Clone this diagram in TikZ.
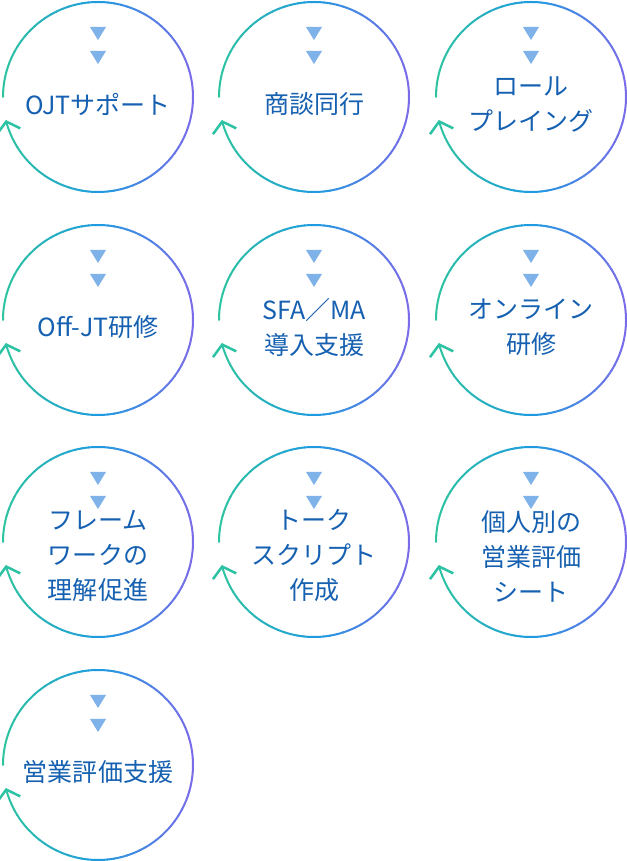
\documentclass[tikz,border=0pt]{standalone}
\usepackage{fontspec}
\setmainfont{Noto Sans CJK JP}
\usetikzlibrary{arrows.meta}
\definecolor{cteal}{HTML}{2EC4A0}
\definecolor{cblue}{HTML}{1E9BE0}
\definecolor{cpurple}{HTML}{7B6CE8}
\definecolor{ctext}{HTML}{1560B0}
\definecolor{ctri}{HTML}{80B2EA}
\tikzset{
  label/.style={circle,minimum size=190bp,inner sep=0pt,align=center,text=ctext,font=\fontsize{25bp}{35bp}\selectfont},
  tri/.style={fill=ctri,draw=none},
  ringseg/.style={line width=2bp,line cap=round},
}
\newcommand\ring[1]{%
  \foreach \a in {180,176,...,-152}{%
    \pgfmathsetmacro\cx{cos(\a-2)}%
    \pgfmathtruncatemacro\pa{max(0,min(100,(\cx+1)*100))}%
    \pgfmathtruncatemacro\pb{max(0,\cx*100)}%
    \colorlet{tmpc}{cblue!\pa!cteal}\colorlet{segc}{cpurple!\pb!tmpc}%
    \draw[ringseg,segc] ([shift={(\a:95bp)}]#1.center) arc[start angle=\a,end angle=\a-4.2,radius=95bp];
  }%
  \draw[ringseg,cteal!95!cblue,-{Straight Barb[length=10bp,width=24bp,line width=2.5bp]}] ([shift={(-156:95bp)}]#1.center) arc[start angle=-156,end angle=-166,radius=95bp];
  \fill[tri] ([shift={(-8bp,70bp)}]#1.center) -- ++(16bp,0) -- ++(-8bp,-13bp) -- cycle;
  \fill[tri] ([shift={(-8bp,46bp)}]#1.center) -- ++(16bp,0) -- ++(-8bp,-13bp) -- cycle;
}
\begin{document}
\begin{tikzpicture}[x=1bp,y=1bp]
\useasboundingbox (0,0) rectangle (627,861);
\node[label] (n1) at (98,764) {};
\node[label] (n2) at (314,764) {};
\node[label] (n3) at (531,764) {};
\node[label] (n4) at (98,541) {};
\node[label] (n5) at (314,541) {};
\node[label] (n6) at (531,541) {};
\node[label] (n7) at (98,319) {};
\node[label] (n8) at (314,319) {};
\node[label] (n9) at (531,319) {};
\node[label] (n10) at (98,96) {};
\foreach \n in {n1,n2,n3,n4,n5,n6,n7,n8,n9,n10}{\ring{\n}}
\node[label] at ([yshift=-7bp]n1.center) {OJTサポート};
\node[label] at ([yshift=-7bp]n2.center) {商談同行};
\node[label] at ([yshift=-7bp]n3.center) {ロール\\プレイング};
\node[label] at ([yshift=-7bp]n4.center) {Off-JT研修};
\node[label] at ([yshift=-7bp]n5.center) {SFA／MA\\導入支援};
\node[label] at ([yshift=-7bp]n6.center) {オンライン\\研修};
\node[label] at ([yshift=-14bp]n7.center) {フレーム\\ワークの\\理解促進};
\node[label] at ([yshift=-14bp]n8.center) {トーク\\スクリプト\\作成};
\node[label] at ([yshift=-14bp]n9.center) {個人別の\\営業評価\\シート};
\node[label] at ([yshift=-7bp]n10.center) {営業評価支援};
\end{tikzpicture}
\end{document}
